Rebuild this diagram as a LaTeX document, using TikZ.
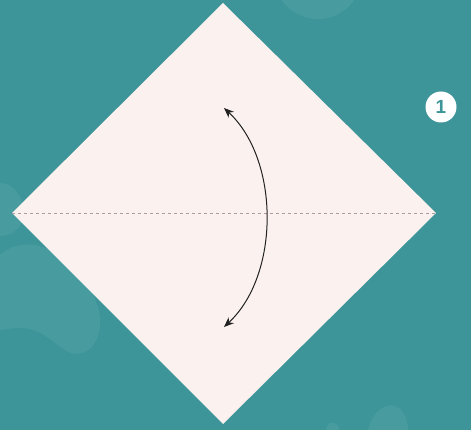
\documentclass[tikz,border=0pt]{standalone}
\usepackage{fontspec}
\setmainfont{Liberation Sans}
\usetikzlibrary{arrows.meta}
\definecolor{teal0}{HTML}{3D9599}
\definecolor{blob}{HTML}{489CA0}
\definecolor{paper}{HTML}{FBF1EE}
\definecolor{dashc}{HTML}{B09A9E}
\definecolor{ink}{HTML}{222222}
\tikzset{
  blobstyle/.style={fill=blob, draw=none},
  foldline/.style={draw=dashc, dashed, dash pattern=on 3pt off 3pt, line width=0.6pt},
  turnarrow/.style={draw=ink, line width=1pt, {Stealth[length=10pt,width=8pt]}-{Stealth[length=10pt,width=8pt]}},
  badge/.style={circle, fill=white, minimum size=31pt, inner sep=0pt, text=teal0, font=\bfseries\fontsize{19}{19}\selectfont}
}
\begin{document}
\begin{tikzpicture}[x=1pt,y=-1pt]
\useasboundingbox (0,0) rectangle (471,430);
\fill[teal0] (0,0) rectangle (471,430);
% background blobs
\begin{scope}
\clip (0,0) rectangle (471,430);
\fill[blobstyle] (318,-25) circle (44);
\fill[blobstyle] (0,183) .. controls (15,183) and (25,200) .. (24,215) .. controls (22,230) and (10,236) .. (0,236) -- cycle;
\fill[blobstyle] (0,255) .. controls (10,245) and (30,240) .. (50,250) .. controls (80,265) and (102,300) .. (100,325) .. controls (98,350) and (80,360) .. (65,350) .. controls (50,340) and (40,328) .. (20,328) .. controls (10,328) and (0,330) .. (0,330) -- cycle;
\fill[blobstyle] (368,430) .. controls (372,412) and (385,403) .. (395,406) .. controls (405,410) and (408,422) .. (408,430) -- cycle;
\fill[blobstyle] (326,430) .. controls (328,420) and (336,420) .. (340,430) -- cycle;
\end{scope}
% paper
\coordinate (T) at (223,3);
\coordinate (R) at (436,213);
\coordinate (B) at (223,424);
\coordinate (L) at (12,213);
\fill[paper] (T) -- (R) -- (B) -- (L) -- cycle;
\draw[foldline] (L) -- (R);
% arrow
\coordinate (A1) at (224,108);
\coordinate (A2) at (224,327);
\draw[turnarrow] (A1) .. controls (280,160) and (280,275) .. (A2);
% badge
\node[badge] (n1) at (441,107) {1};
\end{tikzpicture}
\end{document}
